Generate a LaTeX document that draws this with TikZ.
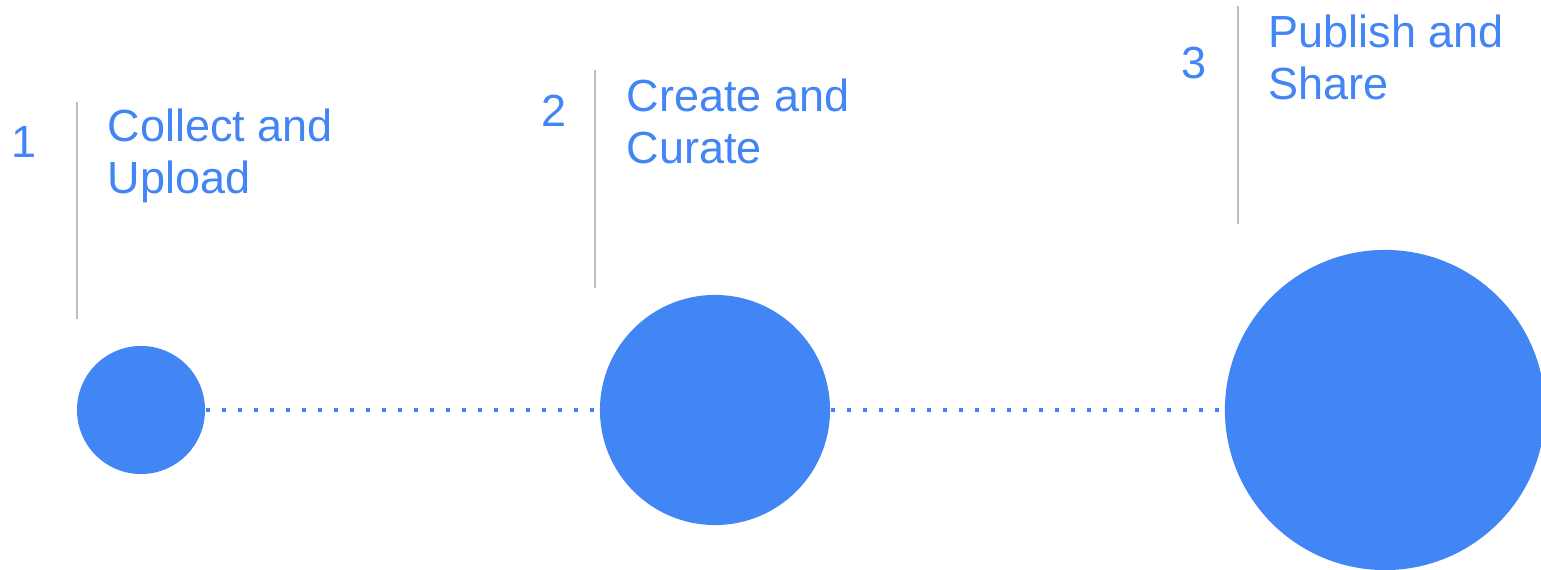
\documentclass[tikz,border=0pt]{standalone}
\usepackage{fontspec}
\setmainfont{Liberation Sans}
\usetikzlibrary{positioning}

\definecolor{gblue}{HTML}{4285F4}
\definecolor{rulegrey}{HTML}{BDBDBD}

\tikzset{
  stage/.style={circle,fill=gblue,draw=none,inner sep=0pt},
  num/.style={text=gblue,inner sep=0pt,anchor=base,font=\fontsize{12.8}{15}\selectfont},
  caption/.style={text=gblue,inner sep=0pt,anchor=base west,align=left,font=\fontsize{12.8}{15}\selectfont},
  divider/.style={draw=rulegrey,line width=0.02cm},
  dotline/.style={draw=gblue,line width=0.04cm,dash pattern=on 0.04cm off 0.12cm}
}

\begin{document}
\begin{tikzpicture}[x=0.01cm,y=-0.01cm]
\useasboundingbox (0,0) rectangle (1541,570);

\node[stage,minimum size=1.28cm] (s1) at (141,410) {};
\node[stage,minimum size=2.30cm] (s2) at (715,410) {};
\node[stage,minimum size=3.20cm] (s3) at (1385,410) {};

\draw[dotline] (s1.east) -- (s2.west);
\draw[dotline] (s2.east) -- (s3.west);

\coordinate (t1) at (77,102);
\coordinate (b1) at (77,319);
\coordinate (t2) at (595,70);
\coordinate (b2) at (595,288);
\coordinate (t3) at (1238,6);
\coordinate (b3) at (1238,224);
\draw[divider] (t1) -- (b1);
\draw[divider] (t2) -- (b2);
\draw[divider] (t3) -- (b3);

\node[num] (n1) at (24,158) {1};
\node[num] (n2) at (554,127) {2};
\node[num] (n3) at (1194,79) {3};

% base anchor sits on the last line
\node[caption] (l1) at (107,194) {Collect and\\Upload};
\node[caption] (l2) at (626,164) {Create and\\Curate};
\node[caption] (l3) at (1268,100) {Publish and\\Share};

\end{tikzpicture}
\end{document}
